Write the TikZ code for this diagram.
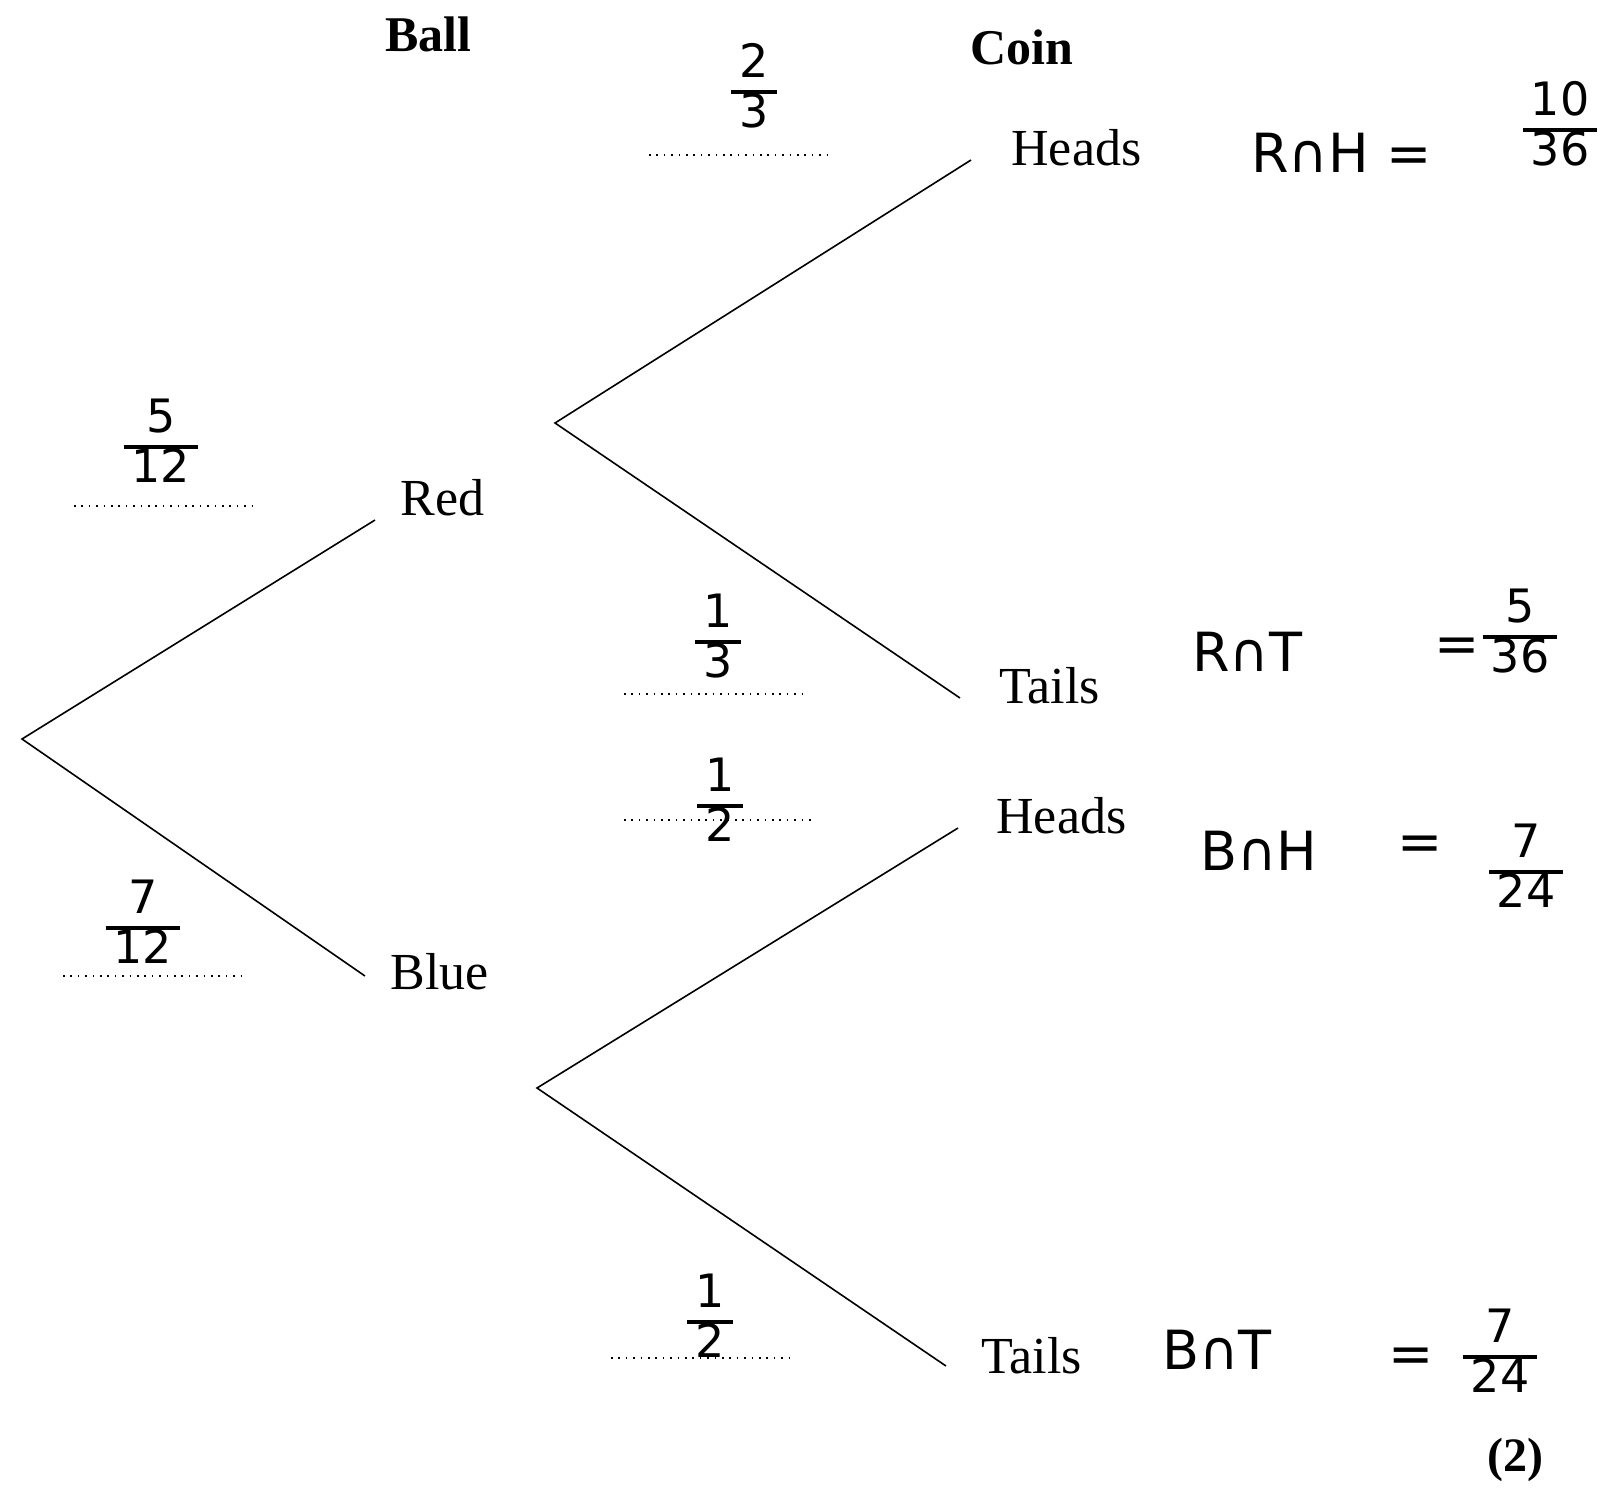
\documentclass[tikz,border=0pt]{standalone}
\usepackage{fontspec}
\setmainfont{Liberation Serif}
\newfontfamily\hand{DejaVu Sans}
\usetikzlibrary{positioning,calc}

% handwritten fraction: numerator, bar, denominator
\newcommand{\handfrac}[2]{{\hand\setlength{\arrayrulewidth}{1.8pt}\renewcommand{\arraystretch}{0.8}%
  \begin{tabular}{@{\hspace{4pt}}c@{\hspace{4pt}}}#1\\\hline #2\end{tabular}}}

\tikzset{
  branch/.style={line width=0.8pt},
  blank/.style={line width=1.2pt, dash pattern=on 0.8pt off 2.9pt},
  lbl/.style={font=\fontsize{26}{30}\selectfont, inner sep=0pt, anchor=base west},
  head/.style={font=\bfseries\fontsize{25}{30}\selectfont, inner sep=0pt, anchor=base west},
  hw/.style={font=\hand\fontsize{27}{32}\selectfont, inner sep=0pt},
  hfr/.style={font=\hand\fontsize{23}{26}\selectfont, inner sep=0pt},
}

\begin{document}
\begin{tikzpicture}[x=0.5pt,y=-0.5pt]
    \useasboundingbox (0,0) rectangle (1598,1494);

    \coordinate (O)  at (22,739);
    \coordinate (R)  at (375,520);
    \coordinate (B)  at (365,976);
    \coordinate (Rv) at (555,423);
    \coordinate (Bv) at (537,1088);
    \coordinate (RH) at (971,160);
    \coordinate (RT) at (960,698);
    \coordinate (BH) at (958,828);
    \coordinate (BT) at (946,1366);

    \draw[branch] (R) -- (O) -- (B);
    \draw[branch] (RH) -- (Rv) -- (RT);
    \draw[branch] (BH) -- (Bv) -- (BT);

    \node[head] (ball) at (385,51) {Ball};
    \node[head] (coin) at (970,64) {Coin};

    \node[lbl] (red)    at (400,515)  {Red};
    \node[lbl] (blue)   at (390,989)  {Blue};
    \node[lbl] (heads1) at (1011,165) {Heads};
    \node[lbl] (tails1) at (999,703)  {Tails};
    \node[lbl] (heads2) at (996,833)  {Heads};
    \node[lbl] (tails2) at (981,1373) {Tails};

    % answer lines
    \foreach \xa/\xb/\yy [count=\i] in {649/829/155, 74/255/506, 624/807/694, 624/812/820, 63/247/976, 611/792/1358} {
        \coordinate (p\i) at (\xa,\yy);
        \coordinate (q\i) at (\xb,\yy);
        \draw[blank] (p\i) -- (q\i);
    }

    \node[hfr] (f23)  at (754,92)   {\handfrac{2}{3}};
    \node[hfr] (f512) at (161,447)  {\handfrac{5}{12}};
    \node[hfr] (f13)  at (718,642)  {\handfrac{1}{3}};
    \node[hfr] (f12a) at (720,806)  {\handfrac{1}{2}};
    \node[hfr] (f712) at (143,928)  {\handfrac{7}{12}};
    \node[hfr] (f12b) at (710,1322) {\handfrac{1}{2}};

    \node[hw, anchor=west] (rh) at (1251,153)  {R∩H};
    \node[hw, anchor=west] (rt) at (1192,652)  {R∩T};
    \node[hw, anchor=west] (bh) at (1200,851)  {B∩H};
    \node[hw, anchor=west] (bt) at (1162,1350) {B∩T};

    \node[hw] (e1) at (1409,160)  {=};
    \node[hw] (e2) at (1457,650)  {=};
    \node[hw] (e3) at (1420,848)  {=};
    \node[hw] (e4) at (1411,1360) {=};

    \node[hfr] (p1036) at (1560,130)  {\handfrac{10}{36}};
    \node[hfr] (p536)  at (1520,637)  {\handfrac{5}{36}};
    \node[hfr] (p724a) at (1526,872)  {\handfrac{7}{24}};
    \node[hfr] (p724b) at (1500,1357) {\handfrac{7}{24}};

    \node[font=\bfseries\fontsize{24}{28}\selectfont, inner sep=0pt] (marks) at (1515,1460) {(2)};

\end{tikzpicture}
\end{document}
